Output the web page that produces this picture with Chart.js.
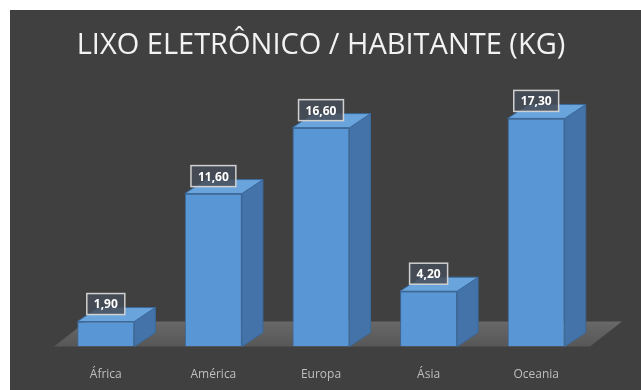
<!DOCTYPE html>
<html lang="pt-BR">
<head>
<meta charset="utf-8">
<title>Lixo eletrônico por habitante</title>
<script src="https://cdn.jsdelivr.net/npm/chart.js@4.4.1/dist/chart.umd.min.js"></script>
<style>
  html, body { margin: 0; padding: 0; background: #ffffff; }
  #caixa {
    position: absolute; left: 10px; top: 10px;
    width: 631px; height: 380px;
    background: #404040;
  }
</style>
</head>
<body>
<div id="caixa"><canvas id="lixoChart" width="631" height="380"></canvas></div>
<script>
// dados do gráfico
const continentes = ['África', 'América', 'Europa', 'Ásia', 'Oceania'];
const kgPorHabitante = [1.90, 11.60, 16.60, 4.20, 17.30];
const tituloGrafico = 'LIXO ELETRÔNICO / HABITANTE (KG)';

const corFrente = '#5896d6';
const corLado = '#4373a8';
const corTopo = '#6aa4dc';
const corBorda = '#3b6a9c';

// profundidade das colunas e do piso (efeito 3D)
const prof = { dx: 21, dy: -14 };
const profPiso = { dx: 32, dy: -25 };

function formatarValor(v) {
  return v.toFixed(2).replace('.', ',');
}

// === PISO 3D ===
const pisoPlugin = {
  id: 'piso3d',
  beforeDatasetsDraw(chart) {
    const { ctx, chartArea } = chart;
    const base = chart.scales.y.getPixelForValue(0);
    const l = chartArea.left + 2, r = chartArea.right;
    ctx.save();
    const grad = ctx.createLinearGradient(0, base, 0, base + profPiso.dy);
    grad.addColorStop(0, '#575757');
    grad.addColorStop(1, '#686868');
    ctx.fillStyle = grad;
    ctx.beginPath();
    ctx.moveTo(l, base);
    ctx.lineTo(r, base);
    ctx.lineTo(r + profPiso.dx, base + profPiso.dy);
    ctx.lineTo(l + profPiso.dx, base + profPiso.dy);
    ctx.closePath();
    ctx.fill();
    ctx.restore();
  }
};

// === LATERAIS, TOPOS E RÓTULOS ===
const colunasPlugin = {
  id: 'colunas3d',
  afterDatasetsDraw(chart) {
    const { ctx } = chart;
    const meta = chart.getDatasetMeta(0);
    ctx.save();
    meta.data.forEach((bar, i) => {
      const x0 = bar.x - bar.width / 2;
      const x1 = bar.x + bar.width / 2;
      const topo = bar.y;
      const base = bar.base;

      // lateral
      ctx.fillStyle = corLado;
      ctx.strokeStyle = corBorda;
      ctx.lineWidth = 1;
      ctx.beginPath();
      ctx.moveTo(x1, topo);
      ctx.lineTo(x1 + prof.dx, topo + prof.dy);
      ctx.lineTo(x1 + prof.dx, base + prof.dy);
      ctx.lineTo(x1, base);
      ctx.closePath();
      ctx.fill();
      ctx.stroke();

      // topo
      ctx.fillStyle = corTopo;
      ctx.beginPath();
      ctx.moveTo(x0, topo);
      ctx.lineTo(x1, topo);
      ctx.lineTo(x1 + prof.dx, topo + prof.dy);
      ctx.lineTo(x0 + prof.dx, topo + prof.dy);
      ctx.closePath();
      ctx.fill();
      ctx.stroke();

      // rótulo com o valor
      const texto = formatarValor(kgPorHabitante[i]);
      ctx.font = 'bold 12px "Open Sans"';
      const w = ctx.measureText(texto).width + 14;
      const h = 21;
      const bx = bar.x - w / 2;
      const by = topo - 7 - h;
      ctx.fillStyle = 'rgba(70, 78, 88, 0.85)';
      ctx.fillRect(bx, by, w, h);
      ctx.strokeStyle = '#d0d0d0';
      ctx.lineWidth = 1.5;
      ctx.strokeRect(bx, by, w, h);
      ctx.fillStyle = '#ffffff';
      ctx.textAlign = 'center';
      ctx.textBaseline = 'middle';
      ctx.fillText(texto, bar.x, by + h / 2 + 1);
    });
    ctx.restore();
  }
};

const ctx = document.getElementById('lixoChart').getContext('2d');
new Chart(ctx, {
  type: 'bar',
  data: {
    labels: continentes,
    datasets: [{
      label: 'kg/habitante',
      data: kgPorHabitante,
      backgroundColor: corFrente,
      borderColor: corBorda,
      borderWidth: 1,
      barPercentage: 0.53,
      categoryPercentage: 1
    }]
  },
  options: {
    responsive: false,
    animation: false,
    layout: { padding: { left: 42, right: 51, top: 0, bottom: -13 } },
    plugins: {
      legend: { display: false },
      tooltip: { enabled: false },
      title: {
        display: true,
        text: tituloGrafico,
        color: '#f2f2f2',
        font: { family: '"Open Sans"', size: 29, weight: 'normal' },
        padding: { top: 18, bottom: 20 }
      }
    },
    scales: {
      x: {
        grid: { display: false, drawTicks: false },
        border: { display: false },
        ticks: {
          color: '#bfbfbf',
          padding: 21,
          font: { family: '"Open Sans"', size: 12 }
        }
      },
      y: {
        display: false,
        min: 0,
        max: 20
      }
    }
  },
  plugins: [pisoPlugin, colunasPlugin]
});
</script>
</body>
</html>
